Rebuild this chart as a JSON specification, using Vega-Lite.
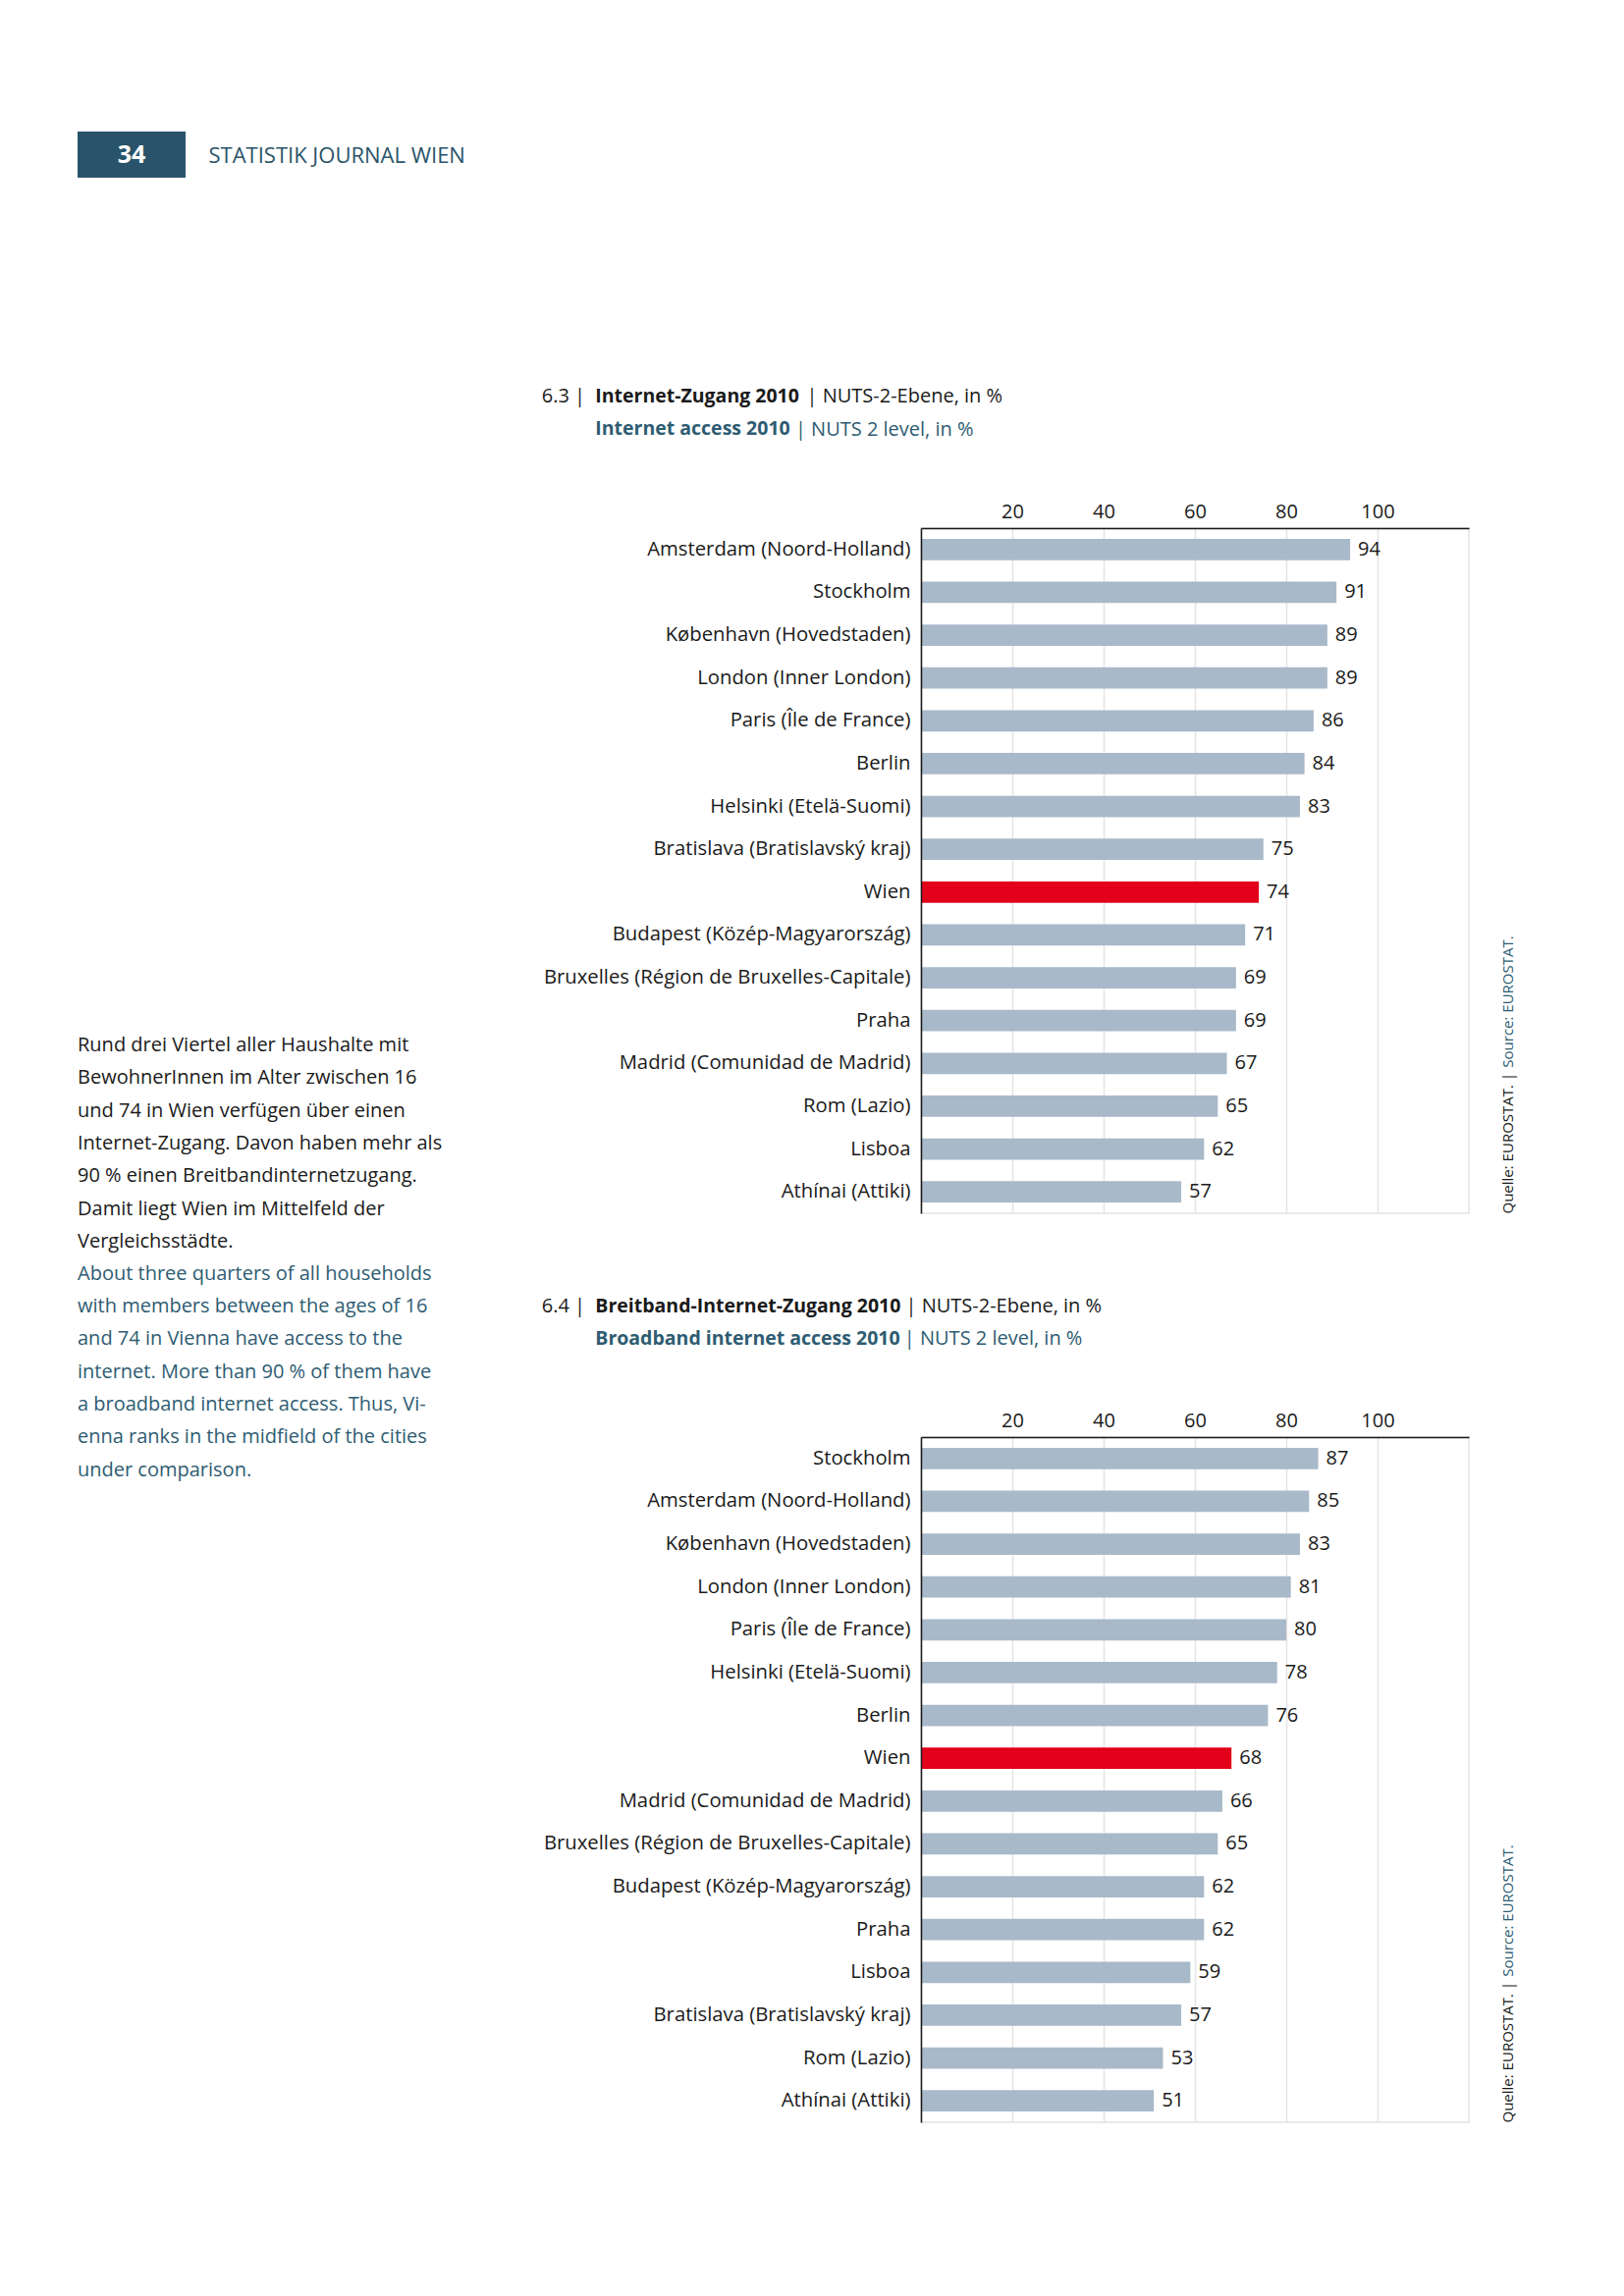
{
  "$schema": "https://vega.github.io/schema/vega-lite/v6.json",
  "background": "white",
  "padding": {"left": 79, "top": 134, "right": 100, "bottom": 170},
  "config": {
    "font": "Open Sans",
    "view": {"stroke": null}
  },
  "spacing": 211,
  "vconcat": [
    {
      "spacing": 23,
      "hconcat": [
        {
          "width": 110,
          "height": 47,
          "view": {"fill": "#29536a", "stroke": null},
          "data": {"values": [{"page": "34"}]},
          "mark": {"type": "text", "color": "white", "fontSize": 25, "fontWeight": "bold", "baseline": "middle", "align": "center"},
          "encoding": {"text": {"field": "page"}}
        },
        {
          "width": 1,
          "height": 47,
          "data": {"values": [{"journal": "STATISTIK JOURNAL WIEN"}]},
          "mark": {"type": "text", "color": "#2b5469", "fontSize": 22, "fontWeight": "normal", "baseline": "middle", "align": "left", "dy": 1.5},
          "encoding": {"text": {"field": "journal"}}
        }
      ]
    },
    {
      "spacing": 91,
      "hconcat": [
        {
          "width": 380,
          "height": 507,
          "data": {"values": [{}]},
          "mark": {"type": "point", "opacity": 0},
          "title": {
            "text": ["Rund drei Viertel aller Haushalte mit", "BewohnerInnen im Alter zwischen 16", "und 74 in Wien verfügen über einen", "Internet-Zugang. Davon haben mehr als", "90 % einen Breitbandinternetzugang.", "Damit liegt Wien im Mittelfeld der", "Vergleichsstädte."],
            "subtitle": ["About three quarters of all households", "with members between the ages of 16", "and 74 in Vienna have access to the", "internet. More than 90 % of them have", "a broadband internet access. Thus, Vi-", "enna ranks in the midfield of the cities", "under comparison."],
            "orient": "bottom", "anchor": "start", "frame": "group", "offset": 10, "baseline": "top",
            "fontSize": 20, "fontWeight": "normal", "color": "#1a1a1a", "lineHeight": 33.3,
            "subtitleFontSize": 20, "subtitleColor": "#2e5c72", "subtitleLineHeight": 33.3, "subtitlePadding": 13, "subtitleFont": "Open Sans"
          }
        },
        {
          "spacing": 82,
          "vconcat": [
            {
              "width": 558,
              "height": 698,
              "view": {"stroke": "#e2e2e2", "strokeWidth": 1.5},
              "data": {"values": [
                {"city": "Amsterdam (Noord-Holland)", "value": 94},
                {"city": "Stockholm", "value": 91},
                {"city": "København (Hovedstaden)", "value": 89},
                {"city": "London (Inner London)", "value": 89},
                {"city": "Paris (Île de France)", "value": 86},
                {"city": "Berlin", "value": 84},
                {"city": "Helsinki (Etelä-Suomi)", "value": 83},
                {"city": "Bratislava (Bratislavský kraj)", "value": 75},
                {"city": "Wien", "value": 74},
                {"city": "Budapest (Közép-Magyarország)", "value": 71},
                {"city": "Bruxelles (Région de Bruxelles-Capitale)", "value": 69},
                {"city": "Praha", "value": 69},
                {"city": "Madrid (Comunidad de Madrid)", "value": 67},
                {"city": "Rom (Lazio)", "value": 65},
                {"city": "Lisboa", "value": 62},
                {"city": "Athínai (Attiki)", "value": 57}
              ]},
              "title": {"text": "Internet-Zugang 2010", "subtitle": "Internet access 2010", "orient": "top", "anchor": "start", "frame": "group", "dx": -331.7, "offset": -54, "fontSize": 19.5, "fontWeight": "bold", "color": "#1a1a1a", "subtitleFontSize": 19.5, "subtitleFontWeight": "bold", "subtitleColor": "#2e5c72", "subtitlePadding": 14, "subtitleFont": "Open Sans"},
              "layer": [
                {
                  "mark": {"type": "bar"},
                  "encoding": {
                    "y": {"field": "city", "type": "nominal", "sort": null, "scale": {"paddingInner": 0.5, "paddingOuter": 0.25},
                      "axis": {"orient": "left", "zindex": 1, "title": "6.3 |", "titleAngle": 0, "titleAlign": "left", "titleBaseline": "middle", "titleX": -386.7, "titleY": -134.3, "titleFontSize": 20, "titleFontWeight": "normal", "titleColor": "#1a1a1a", "labelFontSize": 20.3, "labelColor": "#1a1a1a", "labelPadding": 11, "labelLimit": 600, "ticks": false, "domainColor": "#1a1a1a", "domainWidth": 1.5, "grid": false}},
                    "x": {"field": "value", "type": "quantitative", "scale": {"domain": [0, 120], "nice": false},
                      "axis": {"orient": "top", "values": [20, 40, 60, 80, 100], "grid": true, "gridColor": "#e4e4e4", "gridWidth": 1.5, "ticks": false, "labelFontSize": 20, "labelColor": "#1a1a1a", "labelPadding": 7, "domainColor": "#1a1a1a", "domainWidth": 1.5, "title": "| NUTS-2-Ebene, in %", "titleX": -117, "titleY": -134.3, "titleAlign": "left", "titleBaseline": "middle", "titleAngle": 0, "titleFontSize": 20, "titleFontWeight": "normal", "titleColor": "#1a1a1a"}},
                    "color": {"condition": {"test": "datum.city === 'Wien'", "value": "#e2001a"}, "value": "#a8b9c9"}
                  }
                },
                {
                  "mark": {"type": "text", "align": "left", "baseline": "middle", "dx": 8, "fontSize": 20, "color": "#1a1a1a"},
                  "encoding": {
                    "y": {"field": "city", "type": "nominal", "sort": null, "scale": {"paddingInner": 0.5, "paddingOuter": 0.25},
                      "axis": {"orient": "right", "domain": false, "ticks": false, "tickSize": 0, "grid": false, "labelExpr": "datum.value === 'Athínai (Attiki)' ? 'Source: EUROSTAT.' : ''", "labelAngle": 270, "labelAlign": "left", "labelBaseline": "middle", "labelOffset": -127, "labelPadding": 39, "labelFontSize": 15, "labelColor": "#2e5c72", "title": "Quelle: EUROSTAT. |", "titleAngle": 270, "titleAlign": "left", "titleBaseline": "middle", "titleX": 39, "titleY": 698, "titleFontSize": 15, "titleFontWeight": "normal", "titleColor": "#1a1a1a"}},
                    "x": {"field": "value", "type": "quantitative", "scale": {"domain": [0, 120], "nice": false},
                      "axis": {"orient": "bottom", "labels": false, "ticks": false, "domain": false, "grid": false, "title": "| NUTS 2 level, in %", "titleX": -128.6, "titleY": -798.3, "titleAlign": "left", "titleBaseline": "middle", "titleAngle": 0, "titleFontSize": 20, "titleFontWeight": "normal", "titleColor": "#2e5c72"}},
                    "text": {"field": "value"}
                  }
                }
              ],
              "resolve": {"scale": {"x": "independent", "y": "independent"}}
            },
            {
              "width": 558,
              "height": 698,
              "view": {"stroke": "#e2e2e2", "strokeWidth": 1.5},
              "data": {"values": [
                {"city": "Stockholm", "value": 87},
                {"city": "Amsterdam (Noord-Holland)", "value": 85},
                {"city": "København (Hovedstaden)", "value": 83},
                {"city": "London (Inner London)", "value": 81},
                {"city": "Paris (Île de France)", "value": 80},
                {"city": "Helsinki (Etelä-Suomi)", "value": 78},
                {"city": "Berlin", "value": 76},
                {"city": "Wien", "value": 68},
                {"city": "Madrid (Comunidad de Madrid)", "value": 66},
                {"city": "Bruxelles (Région de Bruxelles-Capitale)", "value": 65},
                {"city": "Budapest (Közép-Magyarország)", "value": 62},
                {"city": "Praha", "value": 62},
                {"city": "Lisboa", "value": 59},
                {"city": "Bratislava (Bratislavský kraj)", "value": 57},
                {"city": "Rom (Lazio)", "value": 53},
                {"city": "Athínai (Attiki)", "value": 51}
              ]},
              "title": {"text": "Breitband-Internet-Zugang 2010", "subtitle": "Broadband internet access 2010", "orient": "top", "anchor": "start", "frame": "group", "dx": -331.7, "offset": -54, "fontSize": 19.5, "fontWeight": "bold", "color": "#1a1a1a", "subtitleFontSize": 19.5, "subtitleFontWeight": "bold", "subtitleColor": "#2e5c72", "subtitlePadding": 14, "subtitleFont": "Open Sans"},
              "layer": [
                {
                  "mark": {"type": "bar"},
                  "encoding": {
                    "y": {"field": "city", "type": "nominal", "sort": null, "scale": {"paddingInner": 0.5, "paddingOuter": 0.25},
                      "axis": {"orient": "left", "zindex": 1, "title": "6.4 |", "titleAngle": 0, "titleAlign": "left", "titleBaseline": "middle", "titleX": -386.7, "titleY": -133.3, "titleFontSize": 20, "titleFontWeight": "normal", "titleColor": "#1a1a1a", "labelFontSize": 20.3, "labelColor": "#1a1a1a", "labelPadding": 11, "labelLimit": 600, "ticks": false, "domainColor": "#1a1a1a", "domainWidth": 1.5, "grid": false}},
                    "x": {"field": "value", "type": "quantitative", "scale": {"domain": [0, 120], "nice": false},
                      "axis": {"orient": "top", "values": [20, 40, 60, 80, 100], "grid": true, "gridColor": "#e4e4e4", "gridWidth": 1.5, "ticks": false, "labelFontSize": 20, "labelColor": "#1a1a1a", "labelPadding": 7, "domainColor": "#1a1a1a", "domainWidth": 1.5, "title": "| NUTS-2-Ebene, in %", "titleX": -16, "titleY": -133.3, "titleAlign": "left", "titleBaseline": "middle", "titleAngle": 0, "titleFontSize": 20, "titleFontWeight": "normal", "titleColor": "#1a1a1a"}},
                    "color": {"condition": {"test": "datum.city === 'Wien'", "value": "#e2001a"}, "value": "#a8b9c9"}
                  }
                },
                {
                  "mark": {"type": "text", "align": "left", "baseline": "middle", "dx": 8, "fontSize": 20, "color": "#1a1a1a"},
                  "encoding": {
                    "y": {"field": "city", "type": "nominal", "sort": null, "scale": {"paddingInner": 0.5, "paddingOuter": 0.25},
                      "axis": {"orient": "right", "domain": false, "ticks": false, "tickSize": 0, "grid": false, "labelExpr": "datum.value === 'Athínai (Attiki)' ? 'Source: EUROSTAT.' : ''", "labelAngle": 270, "labelAlign": "left", "labelBaseline": "middle", "labelOffset": -127, "labelPadding": 39, "labelFontSize": 15, "labelColor": "#2e5c72", "title": "Quelle: EUROSTAT. |", "titleAngle": 270, "titleAlign": "left", "titleBaseline": "middle", "titleX": 39, "titleY": 698, "titleFontSize": 15, "titleFontWeight": "normal", "titleColor": "#1a1a1a"}},
                    "x": {"field": "value", "type": "quantitative", "scale": {"domain": [0, 120], "nice": false},
                      "axis": {"orient": "bottom", "labels": false, "ticks": false, "domain": false, "grid": false, "title": "| NUTS 2 level, in %", "titleX": -17.7, "titleY": -798.3, "titleAlign": "left", "titleBaseline": "middle", "titleAngle": 0, "titleFontSize": 20, "titleFontWeight": "normal", "titleColor": "#2e5c72"}},
                    "text": {"field": "value"}
                  }
                }
              ],
              "resolve": {"scale": {"x": "independent", "y": "independent"}}
            }
          ]
        }
      ]
    }
  ]
}
